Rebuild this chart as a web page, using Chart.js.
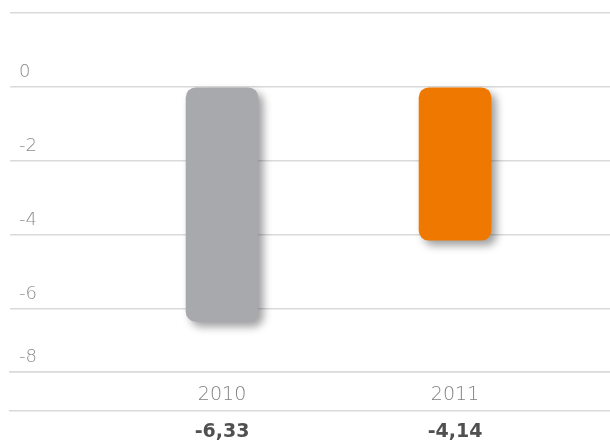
<!DOCTYPE html>
<html>
<head>
<meta charset="utf-8">
<script src="https://cdn.jsdelivr.net/npm/chart.js@4/dist/chart.umd.min.js"></script>
<style>
  html, body { margin: 0; padding: 0; background: #fff; }
  #wrap { width: 610px; height: 447px; position: relative; }
</style>
</head>
<body>
<div id="wrap"><canvas id="chart"></canvas></div>
<script>
// Data
const years = [2010, 2011];
const values = [-6.33, -4.14];
const barColors = ['#a7a9ac', '#ef7800'];
const yTickValues = [2, 0, -2, -4, -6, -7.7];
const yTickLabels = ['', '0', '-2', '-4', '-6', '-8'];

const valueLabels = values.map(v => v.toFixed(2).replace('.', ','));
const xMin = 2009.09;
const xMax = 2011.665;

// soft drop shadow under the bars
const barShadow = {
    id: 'barShadow',
    beforeDatasetsDraw(chart) {
        const ctx = chart.ctx;
        ctx.save();
        ctx.shadowColor = 'rgba(0,0,0,0.38)';
        ctx.shadowBlur = 8;
        ctx.shadowOffsetX = 5;
        ctx.shadowOffsetY = 5;
    },
    afterDatasetsDraw(chart) {
        chart.ctx.restore();
    }
};

const ctx = document.getElementById('chart').getContext('2d');
new Chart(ctx, {
    type: 'bar',
    data: {
        datasets: [{
            data: years.map((y, i) => ({ x: y, y: values[i] })),
            backgroundColor: barColors,
            borderRadius: 10,
            borderSkipped: false,
            barThickness: 72
        }]
    },
    options: {
        responsive: true,
        maintainAspectRatio: false,
        animation: false,
        layout: { padding: { top: 13, left: 0, right: 0, bottom: 0 } },
        plugins: {
            legend: { display: false },
            tooltip: { enabled: false }
        },
        scales: {
            x: {
                type: 'linear',
                position: 'bottom',
                offset: false,
                weight: 1,
                min: xMin,
                max: xMax,
                grid: { display: false, drawTicks: false, offset: false },
                border: { display: true, color: '#dadada', width: 1.5 },
                afterBuildTicks: s => { s.ticks = years.map(v => ({ value: v })); },
                afterFit: s => { s.height = 39; },
                ticks: {
                    padding: 12,
                    color: '#808080',
                    font: { family: 'DejaVu Sans', size: 19, weight: 200 },
                    callback: v => String(v)
                }
            },
            x2: {
                type: 'linear',
                position: 'bottom',
                offset: false,
                weight: 2,
                min: xMin,
                max: xMax,
                grid: { display: false, drawTicks: false, offset: false },
                border: { display: true, color: '#dadada', width: 1.5 },
                afterBuildTicks: s => { s.ticks = years.map(v => ({ value: v })); },
                afterFit: s => { s.height = 36; },
                ticks: {
                    padding: 10,
                    color: '#505050',
                    font: { family: 'DejaVu Sans', size: 19, weight: 'bold' },
                    callback: (v, i) => valueLabels[i]
                }
            },
            y: {
                min: -7.7,
                max: 2,
                grid: { color: '#dadada', lineWidth: 1.5, drawTicks: false },
                border: { display: false },
                afterBuildTicks: s => { s.ticks = yTickValues.map(v => ({ value: v })); },
                afterFit: s => { s.width = 10; s.paddingTop = 0; s.paddingBottom = 0; },
                ticks: {
                    mirror: true,
                    padding: 9,
                    labelOffset: -15,
                    color: '#8c8c8c',
                    font: { family: 'DejaVu Sans', size: 18, weight: 200 },
                    callback: (v, i) => yTickLabels[i]
                }
            }
        }
    },
    plugins: [barShadow]
});
</script>
</body>
</html>
